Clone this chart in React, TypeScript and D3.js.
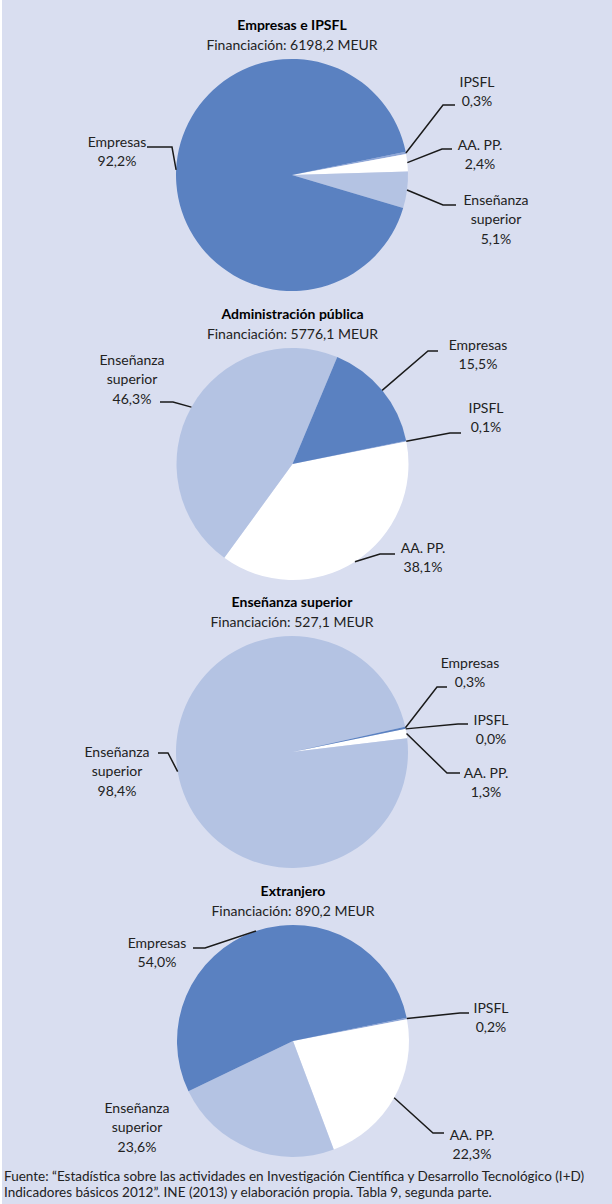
import React, { useEffect, useRef } from "react";
import * as d3 from "d3";

// series (percent of each funding source)
const categories = ["IPSFL", "AA. PP.", "Enseñanza superior", "Empresas"];
const chartTitles = ["Empresas e IPSFL", "Administración pública", "Enseñanza superior", "Extranjero"];
const fundingMeur = ["6198,2", "5776,1", "527,1", "890,2"];
const ipsflShare = [0.3, 0.1, 0.0, 0.2];
const aappShare = [2.4, 38.1, 1.3, 22.3];
const ensenanzaShare = [5.1, 46.3, 98.4, 23.6];
const empresasShare = [92.2, 15.5, 0.3, 54.0];
const footerLines = [
  "Fuente: \u201CEstadística sobre las actividades en Investigación Científica y Desarrollo Tecnológico (I+D)",
  "Indicadores básicos 2012\u201D. INE (2013) y elaboración propia. Tabla 9, segunda parte.",
];

// layout of each pie and its labels (text centre, elbow of leader, end of leader)
const pieCenters = [[292, 175], [292.5, 464], [292, 752], [293, 1041]];
const labelLayout = [
  [
    { tx: 477, ty: 82, ex: 443, ey: 105, hx: 455 },
    { tx: 480, ty: 145, ex: 442, ey: 149, hx: 452 },
    { tx: 496, ty: 200, ex: 443, ey: 205, hx: 456 },
    { tx: 117, ty: 142, ex: 172, ey: 147, hx: 147 },
  ],
  [
    { tx: 486, ty: 408, ex: 450, ey: 433, hx: 461 },
    { tx: 423, ty: 548, ex: 380, ey: 554, hx: 395 },
    { tx: 132, ty: 360, ex: 173, ey: 402, hx: 160 },
    { tx: 478, ty: 345, ex: 428, ey: 351, hx: 438 },
  ],
  [
    { tx: 491, ty: 720, ex: 458, ey: 724, hx: 468 },
    { tx: 486, ty: 773, ex: 447, ey: 773, hx: 460 },
    { tx: 117, ty: 752, ex: 168, ey: 753, hx: 158 },
    { tx: 470, ty: 663, ex: 437, ey: 687, hx: 447 },
  ],
  [
    { tx: 491, ty: 1008, ex: 460, ey: 1013, hx: 469 },
    { tx: 472, ty: 1135, ex: 433, ey: 1133, hx: 444 },
    { tx: 137, ty: 1108, ex: null, ey: null, hx: null },
    { tx: 157, ty: 943, ex: 205, ey: 948, hx: 193 },
  ],
];

const colors = ["#8EA6D7", "#FFFFFF", "#B4C3E3", "#5A81C1"];

function App() {
  const ref = useRef<SVGSVGElement | null>(null);

  useEffect(() => {
    const width = 612;
    const height = 1204;
    const radius = 116;
    const font = "Lato, 'Open Sans', sans-serif";

    const svg = d3.select(ref.current);
    svg.selectAll("*").remove();
    svg.attr("width", width).attr("height", height);

    svg.append("rect").attr("x", 0).attr("y", 0).attr("width", width).attr("height", height).attr("fill", "#FFFFFF");
    svg.append("rect").attr("x", 2).attr("y", 0).attr("width", width - 2).attr("height", height).attr("fill", "#D9DEF0");

    const start = (78.5 * Math.PI) / 180;
    const pie = d3.pie<number>().sort(null).startAngle(start).endAngle(start + 2 * Math.PI);
    const arc = d3.arc<d3.PieArcDatum<number>>().innerRadius(0).outerRadius(radius);
    const edge = d3.arc<d3.PieArcDatum<number>>().innerRadius(radius).outerRadius(radius);
    const fmt = (v: number) => d3.format(".1f")(v).replace(".", ",") + "%";

    chartTitles.forEach((title, i) => {
      const values = [ipsflShare[i], aappShare[i], ensenanzaShare[i], empresasShare[i]];
      const [cx, cy] = pieCenters[i];
      const arcs = pie(values);

      svg.append("text")
        .attr("x", cx).attr("y", cy - 145)
        .attr("text-anchor", "middle")
        .attr("font-family", font).attr("font-weight", "bold").attr("font-size", 14)
        .attr("fill", "#000")
        .text(title);
      svg.append("text")
        .attr("x", cx).attr("y", cy - 125)
        .attr("text-anchor", "middle")
        .attr("font-family", font).attr("font-size", 14)
        .attr("fill", "#222")
        .text(`Financiación: ${fundingMeur[i]} MEUR`);

      const g = svg.append("g").attr("transform", `translate(${cx},${cy})`);
      g.selectAll("path")
        .data(arcs)
        .enter()
        .append("path")
        .attr("d", d => arc(d) as string)
        .attr("fill", (d, j) => colors[j]);

      arcs.forEach((d, j) => {
        const lay = labelLayout[i][j];
        if (lay.ex !== null) {
          const [sx, sy] = edge.centroid(d);
          svg.append("path")
            .attr("d", `M${cx + sx},${cy + sy}L${lay.ex},${lay.ey}L${lay.hx},${lay.ey}`)
            .attr("fill", "none")
            .attr("stroke", "#1a1a1a")
            .attr("stroke-width", 1.5);
        }
        const lines = categories[j] === "Enseñanza superior" ? ["Enseñanza", "superior"] : [categories[j]];
        lines.push(fmt(values[j]));
        const t = svg.append("text")
          .attr("text-anchor", "middle")
          .attr("font-family", font).attr("font-size", 14)
          .attr("fill", "#222");
        lines.forEach((ln, k) => {
          t.append("tspan").attr("x", lay.tx).attr("y", lay.ty + 5 + k * 19.3).text(ln);
        });
      });
    });

    footerLines.forEach((ln, k) => {
      svg.append("text")
        .attr("x", 4).attr("y", 1181 + k * 15.5)
        .attr("font-family", font).attr("font-size", 13.5)
        .attr("fill", "#222")
        .text(ln);
    });
  }, []);

  return (
    <div style={{ position: "absolute", left: 0, top: 0 }}>
      <svg ref={ref} style={{ display: "block" }} />
    </div>
  );
}

export default App;
